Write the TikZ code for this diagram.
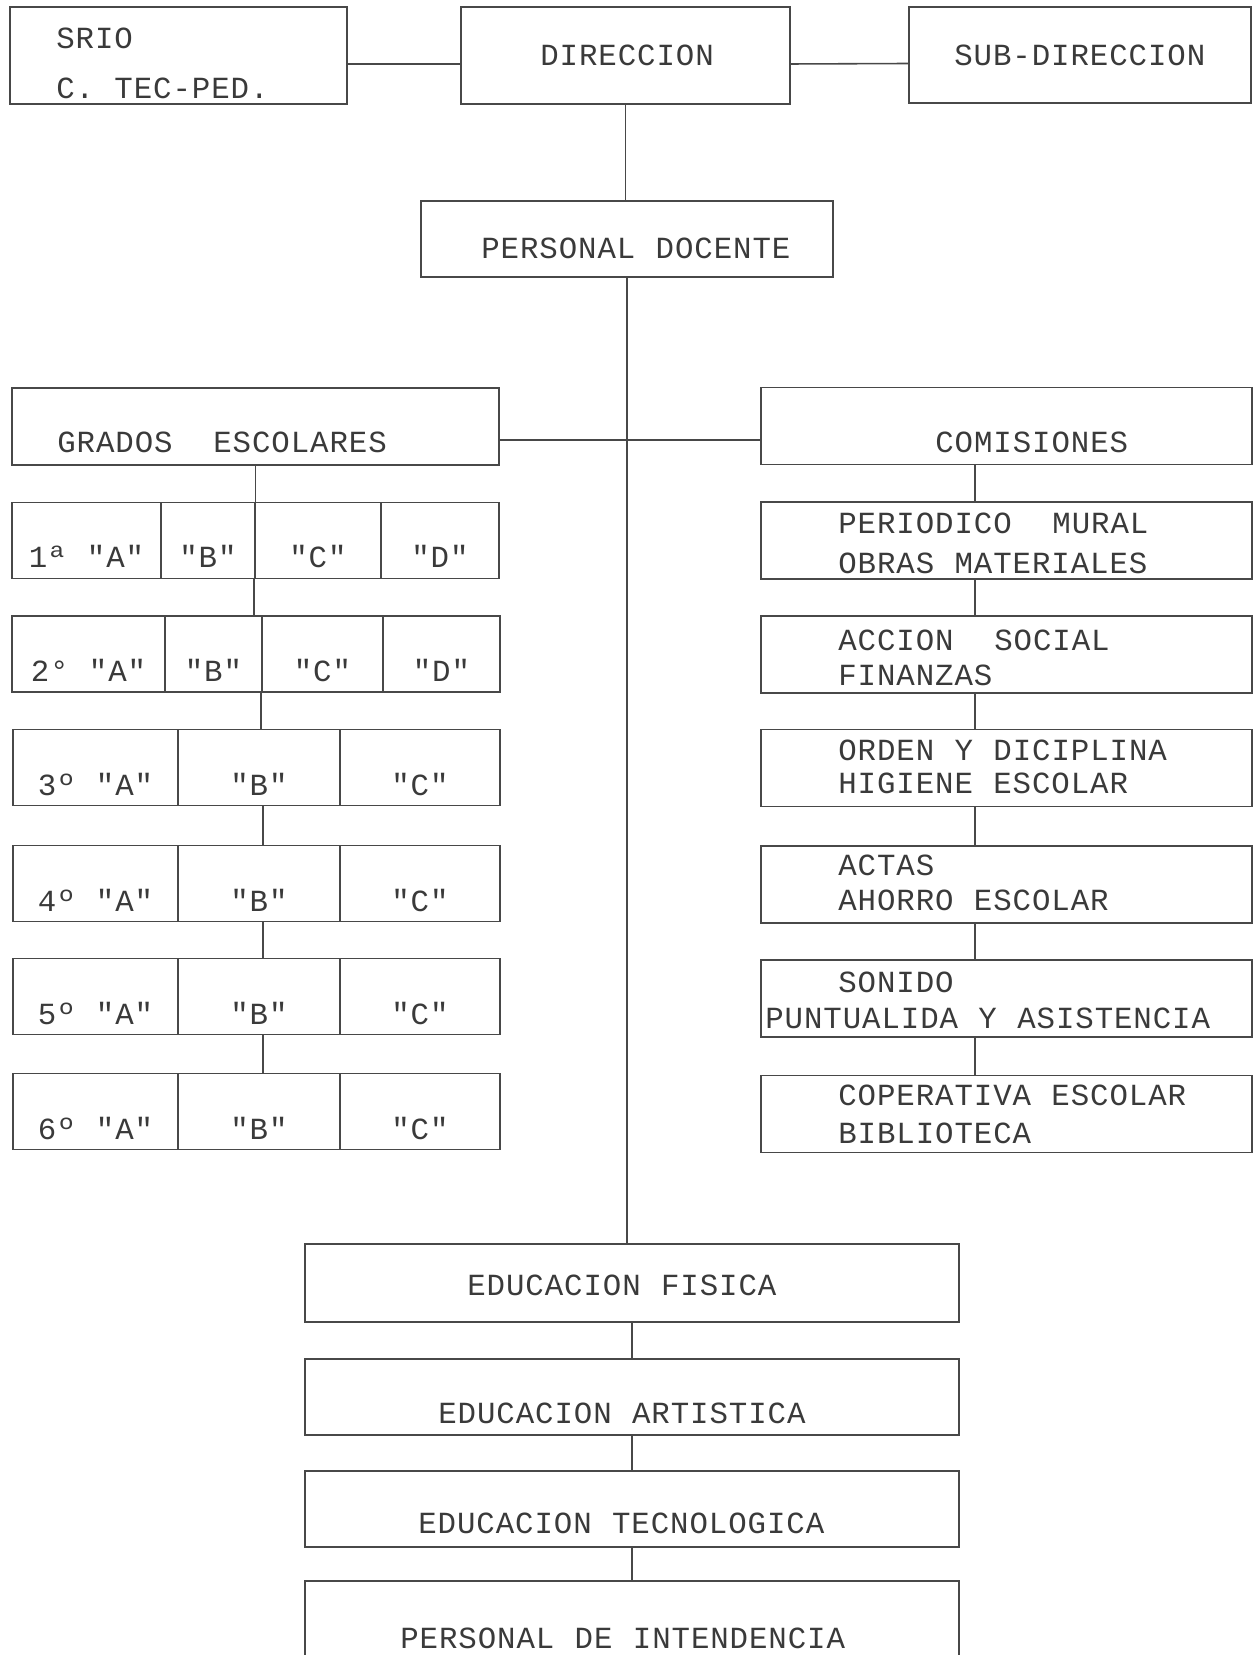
\documentclass[tikz,border=0pt]{standalone}
\usepackage{fontspec}
\newfontfamily\maquina[LetterSpace=3,WordSpace=1.05]{Liberation Mono}
\definecolor{tinta}{HTML}{3A3A3A}
\definecolor{linea}{HTML}{484848}
\tikzset{
	caja/.style={draw=linea, line width=0.9pt, inner sep=0pt, minimum height=1.54cm},
	celda/.style={caja, text=tinta, font=\maquina\fontsize{17.5}{20}\selectfont,
				  text height=1.2cm, text depth=0.1cm, minimum height=1.52cm},
	letra/.style={text=tinta, font=\maquina\fontsize{17.5}{20}\selectfont,
				  inner sep=0pt, anchor=base west},
	enlace/.style={draw=linea, line width=0.9pt}
}
\begin{document}
\begin{tikzpicture}[x=0.02cm, y=-0.02cm]
	\useasboundingbox (0,0) rectangle (1258,1655);
	
	\draw (178.5,55.5) node[caja, minimum width=6.74cm, minimum height=1.94cm](srio){};
	\draw (625.5,55.5) node[caja, minimum width=6.58cm, minimum height=1.94cm](dir){};
	\draw (1080,55) node[caja, minimum width=6.84cm, minimum height=1.92cm](subdir){};
	\draw (56,49) node[letra](t_srio1){SRIO};
	\draw (56,99) node[letra](t_srio2){C. TEC-PED.};
	\draw (540,66) node[letra](t_dir){DIRECCION};
	\draw (954,66) node[letra](t_sub){SUB-DIRECCION};
	
	\draw (627,239) node[caja, minimum width=8.24cm, minimum height=1.52cm](docente){};
	\draw (481,259) node[letra](t_doc){PERSONAL DOCENTE};
	
	\draw [enlace]([yshift=-0.17cm]srio.east) -- ([yshift=-0.17cm]dir.west);
	\draw [enlace]([yshift=-0.17cm]dir.east) -- ([yshift=-0.17cm]subdir.west);
	\draw [enlace](dir.south) -- (dir.south |- docente.north);
	
	\draw (255.5,426.5) node[caja, minimum width=9.74cm](grados){};
	\draw (57,452) node[letra](t_gra){GRADOS~~ESCOLARES};
	\draw (1006.5,426) node[caja, minimum width=9.82cm](comis){};
	\draw (935,452) node[letra](t_com){COMISIONES};
	
	\draw [enlace]([yshift=-0.27cm]grados.east) -- ([yshift=-0.27cm]grados.east -| comis.west);
	
	% grados escolares
	\draw (86.5,540.5) node[celda, minimum width=2.98cm](a1){1ª "A"};
	\draw (208,540.5) node[celda, minimum width=1.88cm](b1){"B"};
	\draw (318,540.5) node[celda, minimum width=2.52cm](c1){"C"};
	\draw (440,540.5) node[celda, minimum width=2.36cm](d1){"D"};
	
	\draw (88.5,654) node[celda, minimum width=3.06cm](a2){2° "A"};
	\draw (213.5,654) node[celda, minimum width=1.94cm](b2){"B"};
	\draw (322.5,654) node[celda, minimum width=2.42cm](c2){"C"};
	\draw (441.5,654) node[celda, minimum width=2.34cm](d2){"D"};
	
	\foreach \n/\y in {3/767.5, 4/883.5, 5/996.5, 6/1111.5}{
		\draw (95.5,\y) node[celda, minimum width=3.30cm](a\n){\n{}º "A"};
		\draw (259,\y) node[celda, minimum width=3.24cm](b\n){"B"};
		\draw (420,\y) node[celda, minimum width=3.20cm](c\n){"C"};
	}
	
	\draw [enlace](grados.south) -- (grados.south |- c1.north);
	\draw [enlace](c1.south west) -- (c1.south west |- b2.north);
	\draw [enlace](c2.south west) -- (c2.south west |- b3.north);
	\foreach \n/\m in {3/4, 4/5, 5/6}
		\draw [enlace]([xshift=0.08cm]b\n.south) -- ([xshift=0.08cm]b\m.north);
	
	% comisiones
	\foreach \n/\y in {1/540.5, 2/654.5, 3/768, 4/884.5, 5/998.5, 6/1114}
		\draw (1006.5,\y) node[caja, minimum width=9.82cm](com\n){};
	
	\draw (838,533) node[letra](t_c1a){PERIODICO~~MURAL};
	\draw (838,573) node[letra](t_c1b){OBRAS MATERIALES};
	\draw (838,650) node[letra](t_c2a){ACCION~~SOCIAL};
	\draw (838,685) node[letra](t_c2b){FINANZAS};
	\draw (838,760) node[letra](t_c3a){ORDEN Y DICIPLINA};
	\draw (838,793) node[letra](t_c3b){HIGIENE ESCOLAR};
	\draw (838,875) node[letra](t_c4a){ACTAS};
	\draw (838,910) node[letra](t_c4b){AHORRO ESCOLAR};
	\draw (838,992) node[letra](t_c5a){SONIDO};
	\draw (765,1028) node[letra](t_c5b){PUNTUALIDA Y ASISTENCIA};
	\draw (838,1105) node[letra](t_c6a){COPERATIVA ESCOLAR};
	\draw (838,1143) node[letra](t_c6b){BIBLIOTECA};
	
	\foreach \a/\b in {comis/com1, com1/com2, com2/com3, com3/com4, com4/com5, com5/com6}
		\draw [enlace]([xshift=-0.63cm]\a.south) -- ([xshift=-0.63cm]\b.north);
	
	% areas
	\draw (632,1283) node[caja, minimum width=13.08cm, minimum height=1.56cm](fis){};
	\draw (632,1397) node[caja, minimum width=13.08cm, minimum height=1.52cm](art){};
	\draw (632,1509) node[caja, minimum width=13.08cm, minimum height=1.52cm](tec){};
	\draw (632,1621) node[caja, minimum width=13.08cm, minimum height=1.6cm](int){};
	\draw (467,1295) node[letra](t_fis){EDUCACION FISICA};
	\draw (438,1423) node[letra](t_art){EDUCACION ARTISTICA};
	\draw (418,1533) node[letra](t_tec){EDUCACION TECNOLOGICA};
	\draw (400,1648) node[letra](t_int){PERSONAL DE INTENDENCIA};
	
	\draw [enlace](docente.south) -- (docente.south |- fis.north);
	\draw [enlace](fis.south) -- (art.north);
	\draw [enlace](art.south) -- (tec.north);
	\draw [enlace](tec.south) -- (int.north);
\end{tikzpicture}
\end{document}
